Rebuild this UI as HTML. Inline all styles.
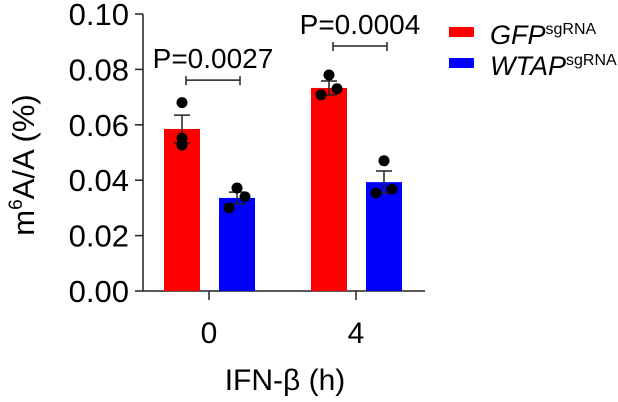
<!DOCTYPE html>
<html><head><meta charset="utf-8"><style>
body{margin:0;background:#fff}
svg{display:block;font-family:"Liberation Sans",Arial,sans-serif}
</style></head><body>
<svg width="618" height="402" viewBox="0 0 618 402">
<g id="plot"></g>
<text x="34" y="165" font-size="31" text-anchor="middle" transform="rotate(-90 34 165)">m<tspan font-size="19" dy="-12">6</tspan><tspan dy="12">A/A (%)</tspan></text>
<text x="285" y="390" font-size="30" text-anchor="middle">IFN-β (h)</text>
<g>
<rect x="449" y="27" width="25" height="10" fill="#ff0000"/>
<text x="490" y="44" font-size="27" font-style="italic">GFP<tspan font-size="16" font-style="normal" dy="-10">sgRNA</tspan></text>
<rect x="449" y="58" width="25" height="10" fill="#0000ff"/>
<text x="490" y="75" font-size="27" font-style="italic">WTAP<tspan font-size="16" font-style="normal" dy="-10">sgRNA</tspan></text>
</g>
</svg>
<script>
const categories=["0","4"];
const gfpMean=[0.0585,0.0733];
const gfpErr=[0.0050,0.0025];
const wtapMean=[0.0336,0.0393];
const wtapErr=[0.0021,0.0040];
const gfpPoints=[[0.068,0.0552,0.0527],[0.078,0.0708,0.073]];
const wtapPoints=[[0.0372,0.030,0.034],[0.047,0.0354,0.0368]];
const pLabels=["P=0.0027","P=0.0004"];
const yTicks=[0,0.02,0.04,0.06,0.08,0.10];
const yTickLabels=["0.00","0.02","0.04","0.06","0.08","0.10"];

const NS="http://www.w3.org/2000/svg";
const g=document.getElementById('plot');
const y0=291,yTop=14,yMax=0.10,axX=143;
const ys=v=>y0-(v/yMax)*(y0-yTop);
const groupX=i=>209+i*147;
const barW=36;
function mk(t,a,p){const e=document.createElementNS(NS,t);for(const k in a)e.setAttribute(k,a[k]);(p||g).appendChild(e);return e;}
let e=mk('line',{x1:axX,y1:yTop,x2:axX,y2:y0,stroke:'#222','stroke-width':1.5});


e=mk('line',{x1:axX,y1:y0,x2:425,y2:y0,stroke:'#222','stroke-width':1.5});


yTicks.forEach((v,i)=>{
 let t=mk('line',{x1:axX-8,y1:ys(v),x2:axX,y2:ys(v),stroke:'#222','stroke-width':1.5});
 
 
 let l=mk('text',{x:129,y:ys(v)+11,'font-size':31,'text-anchor':'end'});
 l.textContent=yTickLabels[i];
 
 
});
categories.forEach((c,i)=>{
 const cx=groupX(i);
 let t=mk('line',{x1:cx,y1:y0,x2:cx,y2:y0+9,stroke:'#222','stroke-width':1.5});
 
 
 let l=mk('text',{x:cx,y:343,'font-size':30,'text-anchor':'middle'});
 l.textContent=c;
 
 
 const series=[[gfpMean,gfpErr,gfpPoints,'#ff0000',cx-27,'gfp'],[wtapMean,wtapErr,wtapPoints,'#0000ff',cx+28,'wtap']];
 series.forEach(([m,er,pts,col,bx,nm])=>{
  let b=mk('rect',{x:bx-barW/2,y:ys(m[i]),width:barW,height:y0-ys(m[i]),fill:col});
  
  
  let eb=mk('path',{d:`M${bx},${ys(m[i]-er[i])}V${ys(m[i]+er[i])}M${bx-8},${ys(m[i]+er[i])}H${bx+8}M${bx-8},${ys(m[i]-er[i])}H${bx+8}`,stroke:'#222','stroke-width':1.5,fill:'none'});
  
  
  const offs=[0,-8,8];
  pts[i].forEach((v,k)=>{
   let d=mk('circle',{cx:bx+(nm==='gfp'&&i===0?0:offs[k]),cy:ys(v),r:5.5,fill:'#000'});
   
   
  });
 });
 const top=Math.max(gfpMean[i]+gfpErr[i],wtapMean[i]+wtapErr[i]);
 const by=ys(top)-35;
 let br=mk('path',{d:`M${cx-23},${by}H${cx+31}M${cx-23},${by-4}V${by+5}M${cx+31},${by-4}V${by+5}`,stroke:'#222','stroke-width':1.5,fill:'none'});
 
 
 let pl=mk('text',{x:cx+4,y:by-12,'font-size':28,'text-anchor':'middle'});
 pl.textContent=pLabels[i];
 
 
});
</script>
</body></html>
